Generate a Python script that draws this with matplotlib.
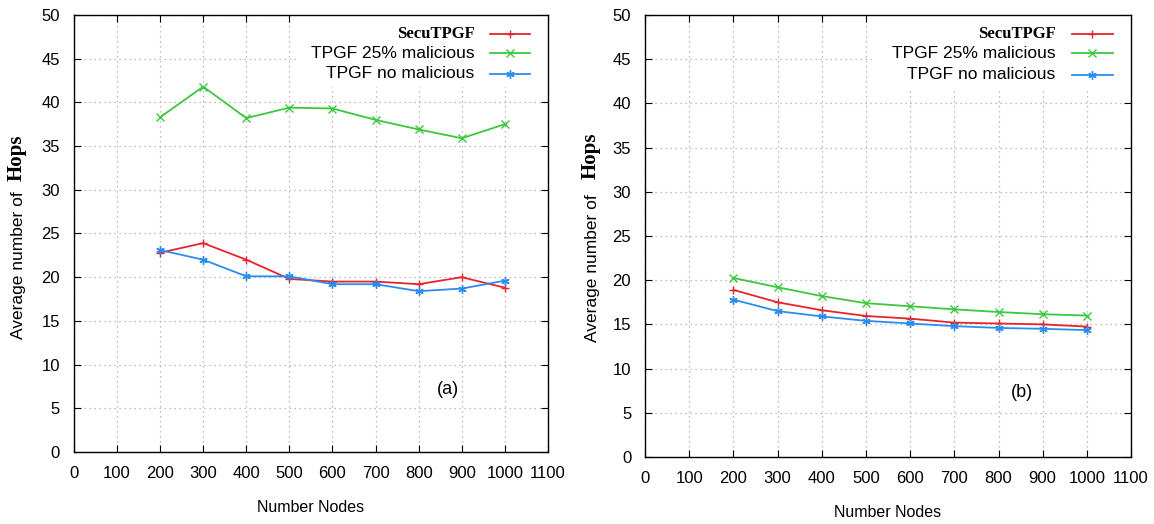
import matplotlib
matplotlib.use('Agg')
from matplotlib import pyplot as plt
from matplotlib.patches import Rectangle

nodes = [200, 300, 400, 500, 600, 700, 800, 900, 1000]

# panel (a)
secu_a = [22.8, 23.9, 22.0, 19.8, 19.5, 19.5, 19.2, 20.0, 18.8]
mal_a = [38.3, 41.8, 38.2, 39.4, 39.3, 38.0, 36.9, 35.9, 37.5]
nomal_a = [23.1, 22.0, 20.1, 20.1, 19.2, 19.2, 18.4, 18.7, 19.6]

# panel (b)
secu_b = [18.9, 17.5, 16.6, 15.95, 15.65, 15.2, 15.1, 15.0, 14.75]
mal_b = [20.25, 19.2, 18.2, 17.4, 17.05, 16.7, 16.4, 16.15, 16.0]
nomal_b = [17.8, 16.5, 15.9, 15.4, 15.1, 14.8, 14.6, 14.5, 14.35]

labels = ['SecuTPGF', 'TPGF 25% malicious', 'TPGF no malicious']
colors = ['#e8242c', '#3cc83c', '#2b8cf0']
markers = ['+', 'x', (6, 2, 0)]

plt.rcParams['font.family'] = ['Liberation Sans', 'DejaVu Sans']

fig = plt.figure(figsize=(11.54, 5.24), dpi=100)
ax1 = fig.add_axes([0.0641, 0.1374, 0.4107, 0.834])
ax2 = fig.add_axes([0.559, 0.1279, 0.4211, 0.8435])


def draw_panel(ax, series, tag, tag_xy):
	for vals, c, m, lab in zip(series, colors, markers, labels):
		ax.plot(nodes, vals, color=c, marker=m, markersize=6, linewidth=1.3,
				markeredgewidth=1.0, zorder=3)
	ax.set_xlim(0, 1100)
	ax.set_ylim(0, 50)
	ax.set_xticks(range(0, 1101, 100))
	ax.set_yticks(range(0, 51, 5))
	ax.tick_params(axis='both', direction='in', top=True, right=True,
				   labelsize=12, length=5, width=0.8, pad=10)
	ax.grid(True, color='#a8a8a8', linestyle=(0, (1, 3)), linewidth=0.9)
	ax.set_axisbelow(True)
	for s in ax.spines.values():
		s.set_linewidth(1.0)
	ax.set_xlabel('Number Nodes', fontsize=11.5, labelpad=14)

	# gnuplot style key, text right aligned with sample at right
	ax.add_patch(Rectangle((0.47, 0.835), 0.53, 0.165, transform=ax.transAxes,
						   facecolor='white', edgecolor='none', zorder=2))
	ys = [0.957, 0.913, 0.865]
	for i, lab in enumerate(labels):
		if i == 0:
			ax.text(0.845, ys[i], lab, transform=ax.transAxes, ha='right',
					va='center', fontsize=12, fontweight='bold',
					family='Liberation Serif', zorder=4)
		else:
			ax.text(0.845, ys[i], lab, transform=ax.transAxes, ha='right',
					va='center', fontsize=12.5, zorder=4)
		ax.plot([0.878, 0.962], [ys[i], ys[i]], transform=ax.transAxes,
				color=colors[i], linewidth=1.3, zorder=4)
		ax.plot([0.92], [ys[i]], transform=ax.transAxes, color=colors[i],
				marker=markers[i], markersize=6, markeredgewidth=1.0, zorder=4)

	ax.text(tag_xy[0], tag_xy[1], tag, fontsize=13, ha='center', va='center')


draw_panel(ax1, [secu_a, mal_a, nomal_a], '(a)', (868, 7.1))
draw_panel(ax2, [secu_b, mal_b, nomal_b], '(b)', (853, 7.3))

# y labels: sans text followed by bold serif "Hops"
for x_px, y0_px, y1_px in [(18, 339, 181), (592, 342, 179)]:
	fig.text(x_px / 1154, 1 - y0_px / 524, 'Average number of', rotation=90,
			 rotation_mode='anchor', ha='left', va='center', fontsize=12.5)
	fig.text(x_px / 1154 - 0.001, 1 - y1_px / 524, 'Hops', rotation=90,
			 rotation_mode='anchor', ha='left', va='center', fontsize=15,
			 fontweight='bold', family='Liberation Serif')

fig.savefig('out.png', dpi=100)
